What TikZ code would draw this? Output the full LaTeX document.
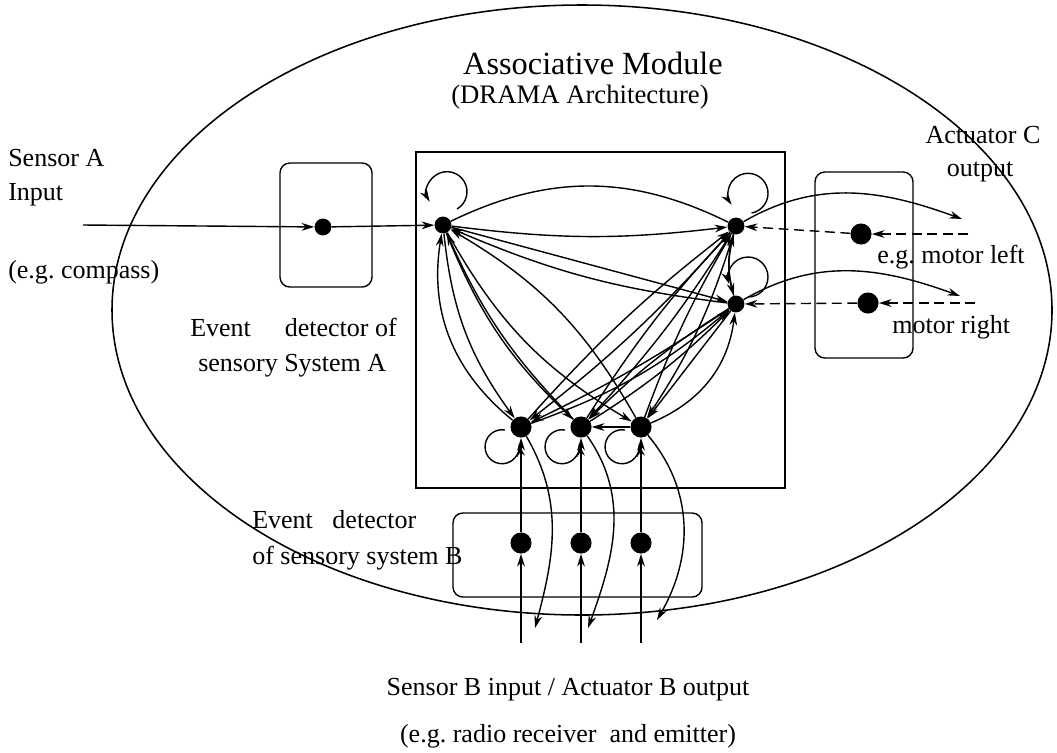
\documentclass[tikz,border=0pt]{standalone}
\usepackage{fontspec}
\setmainfont{Liberation Serif}
\usepackage{tikz}
\usetikzlibrary{arrows.meta, shapes}

\begin{document}
\begin{tikzpicture}[x=0.025cm, y=0.025cm]
\useasboundingbox (0,0) rectangle (1057,-752);

% module outline, network square and detector boxes
\draw[line width=1.1pt] (582,-310) ellipse (470 and 305);
\draw[line width=1pt] (416,-152) rectangle (785,-488);
\begin{scope}[line width=1pt, rounded corners=7pt]
  \draw (280,-163) rectangle (372,-287);
  \draw (815,-172) rectangle (913,-358);
  \draw (453,-513) rectangle (702,-597);
\end{scope}

\begin{scope}[every node/.style={circle, fill=black, inner sep=0pt, minimum size=12pt}]
  \node (da) at (323,-227) {};
  \node (a) at (443,-225) {};
  \node (c1) at (736,-226) {};
  \node (c2) at (736,-304) {};
  \node[minimum size=15pt] (b1) at (521,-427) {};
  \node[minimum size=15pt] (b2) at (581,-427) {};
  \node[minimum size=15pt] (b3) at (641,-427) {};
  \node[minimum size=15pt] (db1) at (521,-543) {};
  \node[minimum size=15pt] (db2) at (581,-543) {};
  \node[minimum size=15pt] (db3) at (641,-543) {};
  \node[minimum size=15pt] (dc1) at (861,-234) {};
  \node[minimum size=15pt] (dc2) at (868,-303) {};
\end{scope}

\coordinate (sa) at (83,-225);
\coordinate (ml) at (968,-234);
\coordinate (mr) at (975,-303);
\coordinate (ol) at (962,-219);
\coordinate (or) at (960,-296);
\coordinate (bi1) at (521,-643);
\coordinate (bi2) at (581,-643);
\coordinate (bi3) at (641,-643);
\coordinate (bo1) at (535,-628);
\coordinate (bo2) at (588,-628);
\coordinate (bo3) at (657,-620);

\begin{scope}[every node/.style={inner sep=0pt, font=\fontsize{18.5}{22}\selectfont}]
  \node[font=\fontsize{23}{28}\selectfont] (title) at (593,-63) {Associative Module};
  \node[font=\fontsize{19}{23}\selectfont] (sub) at (580,-97) {(DRAMA Architecture)};
  \node[anchor=west] (sA) at (8,-158) {Sensor A};
  \node[anchor=west] (inA) at (8,-195) {Input};
  \node[anchor=west] (egA) at (8,-272) {(e.g.\ compass)};
  \node[anchor=west] (evA) at (190,-327) {Event\hspace{1.3em}detector of};
  \node[anchor=west] (syA) at (198,-366) {sensory System A};
  \node (actC) at (983,-135) {Actuator C};
  \node (outC) at (980,-172) {output};
  \node[anchor=west] (ml1) at (877,-257) {e.g.\ motor left};
  \node[anchor=west] (mr1) at (892,-327) {motor right};
  \node[anchor=west] (evB) at (252,-520) {Event\hspace{0.75em}detector};
  \node[anchor=west] (syB) at (252,-558) {of sensory system B};
  \node (sB) at (568,-690) {Sensor B input / Actuator B output};
  \node (egB) at (568,-736) {(e.g.\ radio receiver\ \ and emitter)};
\end{scope}

\begin{scope}[>={Stealth[length=9pt, width=5.5pt]},
              every edge/.style={draw=black, line width=1pt}]
    \path[->] (sa) edge (da);
    \path[->] (da) edge (a);
    % self loops
    \draw[->, line width=1pt] ([shift={(14,16)}]a.center) arc[start angle=-60, end angle=210, radius=20];
    \draw[->, line width=1pt] ([shift={(15.5,13)}]c1.center) arc[start angle=-80, end angle=215, radius=20];
    \draw[->, line width=1pt] ([shift={(12,7)}]c2.center) arc[start angle=-90, end angle=200, radius=20];
    \draw[->, line width=1pt] ([shift={(-16,-3)}]b1.center) arc[start angle=80, end angle=370, radius=17];
    \draw[->, line width=1pt] ([shift={(-16,-3)}]b2.center) arc[start angle=80, end angle=370, radius=17];
    \draw[->, line width=1pt] ([shift={(-16,-3)}]b3.center) arc[start angle=80, end angle=370, radius=17];
    % A and C
    \path (a) edge[bend left=26] (c1);
    \path[->] (a) edge[bend right=7] (c1);
    \path[->] (a) edge (c2);
    \path[->] (c2) edge[bend left=8] (a);
    \path[->] (c2) edge[bend left=15] (c1);
    \path[->] (c1) edge[bend right=15] (c2);
    % A and B
    \path[->] (a) edge[bend right=15] (b1);
    \path[->] (b1) edge[bend left=30] (a);
    \path[->] (a) edge[bend right=12] (b2);
    \path[->] (b2) edge[bend left=10] (a);
    \path[->] (a) edge[bend right=15] (b3);
    \path[->] (b3) edge[bend right=15] (a);
    % B and C
    \path[->] (b1) edge[bend left=5] (c1);
    \path[->] (c1) edge[bend left=5] (b1);
    \path[->] (b1) edge[bend right=10] (c2);
    \path[->] (c2) edge[bend left=4] (b1);
    \path[->] (b2) edge[bend left=5] (c1);
    \path[->] (c1) edge[bend left=5] (b2);
    \path[->] (b2) edge[bend right=6] (c2);
    \path[->] (c2) edge[bend right=6] (b2);
    \path[->] (b3) edge[bend left=5] (c1);
    \path[->] (c1) edge[bend left=8] (b3);
    \path[->] (b3) edge[bend right=30] (c2);
    \path[->] (c2) edge (b3);
    \path[->] (b3) edge (b2);
    % sensory system B
    \path[->] (bi1) edge (db1);
    \path[->] (bi2) edge (db2);
    \path[->] (bi3) edge (db3);
    \path[->] (db1) edge (b1);
    \path[->] (db2) edge (b2);
    \path[->] (db3) edge (b3);
    \path[->] (b1) edge[out=-60, in=75] (bo1);
    \path[->] (b2) edge[out=-55, in=70] (bo2);
    \path[->] (b3) edge[out=-50, in=60] (bo3);
    % actuator C
    \path[->] (c1) edge[out=30, in=160] (ol);
    \path[->] (c2) edge[out=30, in=160] (or);
    \path[->, dash pattern=on 7pt off 4pt] (ml) edge (dc1);
    \path[->, dash pattern=on 7pt off 4pt] (dc1) edge (c1);
    \path[->, dash pattern=on 7pt off 4pt] (mr) edge (dc2);
    \path[->, dash pattern=on 7pt off 4pt] (dc2) edge (c2);
\end{scope}
\end{tikzpicture}
\end{document}
